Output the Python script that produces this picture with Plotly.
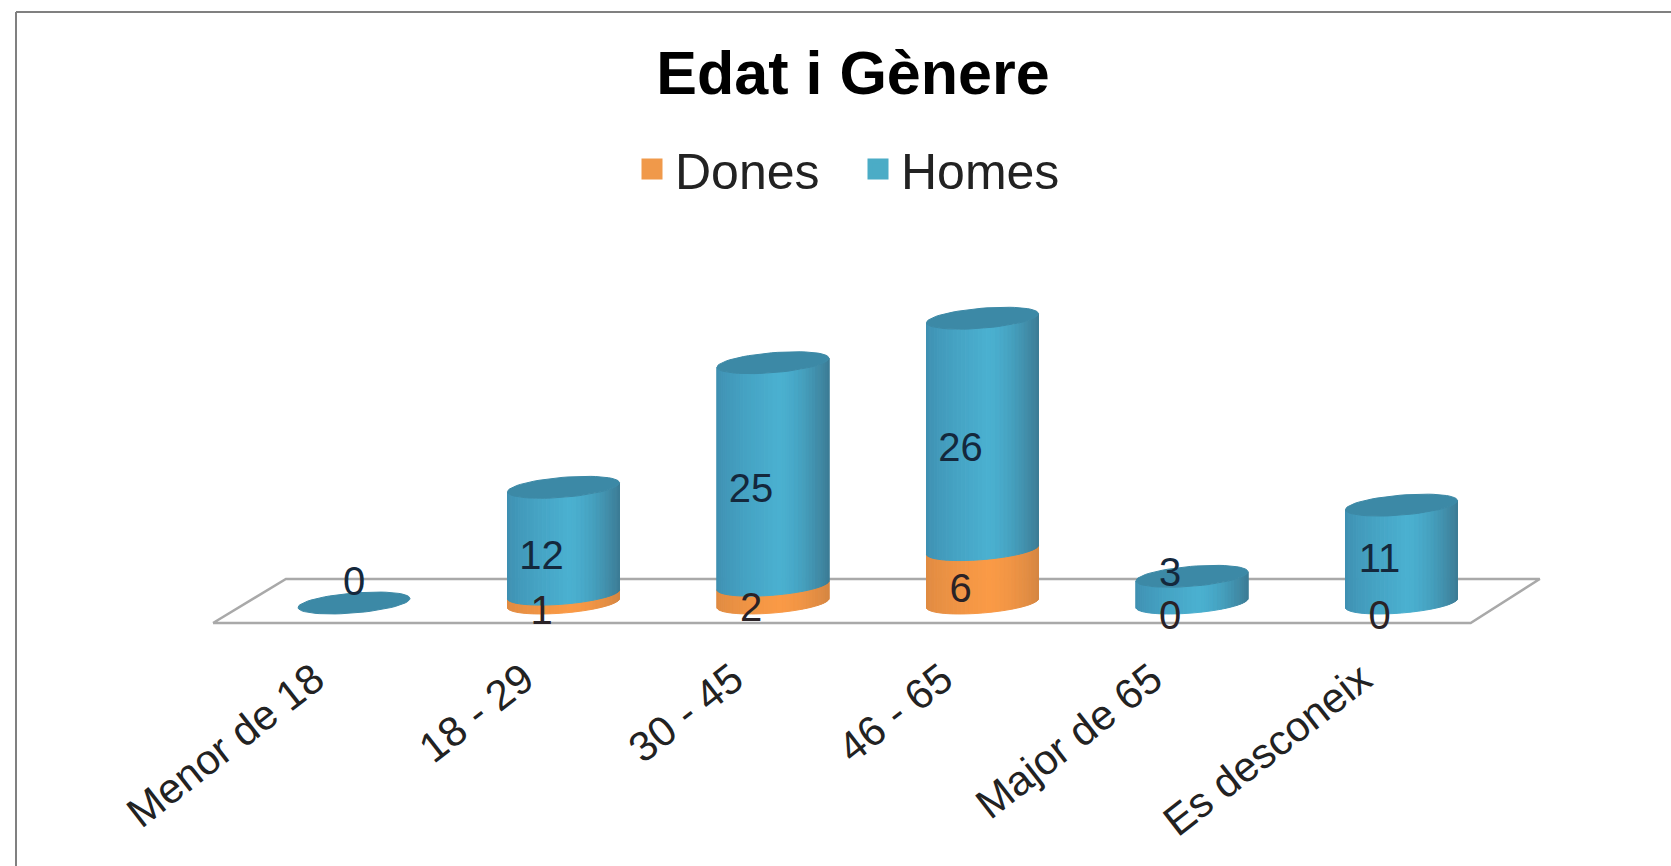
import numpy as np
import plotly.graph_objects as go

# Values
categories = ["Menor de 18", "18 - 29", "30 - 45", "46 - 65", "Major de 65", "Es desconeix"]
dones = [0, 1, 2, 6, 0, 0]
homes = [0, 12, 25, 26, 3, 11]
dones_labels = ["", "1", "2", "6", "0", "0"]
homes_labels = ["0", "12", "25", "26", "3", "11"]

W, H = 1671, 866
PLOT_BOTTOM = 630          # px, the tick labels live below this
BASE_PX = 603              # px of value 0
X0_PX, X_STEP = 354, 209.5 # px of first category, px per category
Y_STEP = 8.9               # px per person

# Cylinder geometry, in axis units
HALF_W = 56 / X_STEP
ELL_H = 10 / Y_STEP
ELL_TILT = 4.5 / Y_STEP
N_STRIPS = 40


def mix(c1, c2, t):
    return "rgb(%d,%d,%d)" % tuple(round(a + (b - a) * t) for a, b in zip(c1, c2))


def shade(edge_l, mid, edge_r, t):
    # t goes 0..1 from left to right, lightest a bit right of the middle
    if t < 0.55:
        return mix(edge_l, mid, (t / 0.55) ** 0.7)
    return mix(mid, edge_r, ((t - 0.55) / 0.45) ** 1.6)


def arc(u, level):
    return level + ELL_TILT * np.cos(u) + ELL_H * np.sin(u)


def strips(seg_list, edge_l, mid, edge_r):
    # one trace per shade, each holding that strip of every cylinder
    edges = np.linspace(np.pi, 2 * np.pi, N_STRIPS + 1)
    out = []
    for k in range(N_STRIPS):
        u1, u2 = edges[k], edges[k + 1]
        xs, ys = [], []
        for i, lo, hi in seg_list:
            x1 = i + HALF_W * np.cos(u1)
            x2 = i + HALF_W * np.cos(u2)
            xs += [x1, x2, x2, x1, x1, None]
            ys += [arc(u1, lo), arc(u2, lo), arc(u2, hi), arc(u1, hi), arc(u1, lo), None]
        t = (np.cos((u1 + u2) / 2) + 1) / 2
        col = shade(edge_l, mid, edge_r, t)
        out.append(go.Scatter(x=xs, y=ys, mode="lines", fill="toself", fillcolor=col,
                              line=dict(color=col, width=1), showlegend=False, hoverinfo="skip"))
    return out


fig = go.Figure()

# Floor of the 3D plot
fig.add_trace(go.Scatter(
    x=[-0.673, 5.33, 5.66, -0.325, -0.673],
    y=[-2.25, -2.25, 2.7, 2.7, -2.25],
    mode="lines", line=dict(color="#a9a9a9", width=2.5), showlegend=False, hoverinfo="skip"))

dones_segs = [(i, 0, d) for i, d in enumerate(dones) if d > 0]
homes_segs = [(i, d, d + h) for i, (d, h) in enumerate(zip(dones, homes)) if h > 0]
for tr in strips(dones_segs, (222, 138, 66), (250, 154, 70), (214, 134, 66)):
    fig.add_trace(tr)
for tr in strips(homes_segs, (62, 142, 176), (74, 176, 208), (60, 124, 150)):
    fig.add_trace(tr)

# Top caps
u = np.linspace(0, 2 * np.pi, 60)
cap_x, cap_y = [], []
for i, (d, h) in enumerate(zip(dones, homes)):
    cap_x += list(i + HALF_W * np.cos(u)) + [None]
    cap_y += list(arc(u, d + h)) + [None]
fig.add_trace(go.Scatter(x=cap_x, y=cap_y, mode="lines", fill="toself", fillcolor="#3c89a6",
                         line=dict(color="#3c89a6", width=1), showlegend=False, hoverinfo="skip"))

# Data labels
label_dx = [0 if i == 0 else -0.105 for i in range(len(categories))]
homes_shift = [2.05, -2.0, -2.0, -1.9, 1.5, -0.9]
dones_shift = [0, -1.75, -1.85, -1.75, -1.75, -1.75]
x_lab = [i + dx for i, dx in enumerate(label_dx)]
fig.add_trace(go.Scatter(
    x=x_lab, y=[d + h / 2 + s for d, h, s in zip(dones, homes, homes_shift)],
    mode="text", text=homes_labels, textposition="middle center", cliponaxis=False,
    textfont=dict(family="Liberation Sans", size=40, color="#14283c"),
    showlegend=False, hoverinfo="skip"))
fig.add_trace(go.Scatter(
    x=x_lab, y=[d / 2 + s for d, s in zip(dones, dones_shift)],
    mode="text", text=dones_labels, textposition="middle center", cliponaxis=False,
    textfont=dict(family="Liberation Sans", size=40, color="#2a2226"),
    showlegend=False, hoverinfo="skip"))

# Legend entries, legend caps the marker at 16 so the outline makes up the rest
fig.add_trace(go.Scatter(x=[None], y=[None], mode="markers", name="Dones",
                         marker=dict(symbol="square", size=16, color="#f0994a",
                                     line=dict(color="#f0994a", width=5))))
fig.add_trace(go.Scatter(x=[None], y=[None], mode="markers", name="Homes",
                         marker=dict(symbol="square", size=16, color="#4bacc6",
                                     line=dict(color="#4bacc6", width=5))))

plot_h = PLOT_BOTTOM
to_paper_y = lambda px: (plot_h - px) / plot_h

fig.update_layout(
    width=W, height=H,
    margin=dict(l=0, r=0, t=0, b=H - PLOT_BOTTOM),
    paper_bgcolor="white", plot_bgcolor="rgba(0,0,0,0)",
    title=dict(text="<b>Edat i Gènere</b>", x=853 / W, xanchor="center", xref="paper",
               y=1 - 73 / H, yanchor="middle", yref="container",
               font=dict(family="Liberation Sans", size=61, color="black")),
    legend=dict(orientation="h", x=629 / W, xanchor="left", y=to_paper_y(169), yanchor="middle",
                font=dict(family="Liberation Sans", size=50, color="#222222"),
                itemwidth=36, entrywidth=175, entrywidthmode="pixels",
                bgcolor="rgba(0,0,0,0)", itemclick=False, itemdoubleclick=False),
    xaxis=dict(range=[-X0_PX / X_STEP, (W - X0_PX) / X_STEP], showgrid=False, zeroline=False,
               showline=False, tickmode="array", tickvals=[i - 0.19 for i in range(len(categories))],
               ticktext=categories, tickangle=-38, ticks="outside", ticklen=7, tickcolor="rgba(0,0,0,0)",
               tickfont=dict(family="Liberation Sans", size=42, color="#222222")),
    yaxis=dict(range=[(BASE_PX - PLOT_BOTTOM) / Y_STEP, BASE_PX / Y_STEP], visible=False),
    shapes=[
        dict(type="line", xref="paper", yref="paper", x0=16 / W, x1=1, y0=to_paper_y(12), y1=to_paper_y(12),
             line=dict(color="#808080", width=2)),
        dict(type="line", xref="paper", yref="paper", x0=16 / W, x1=16 / W, y0=to_paper_y(12), y1=to_paper_y(H),
             line=dict(color="#808080", width=2)),
    ],
)

fig.write_html("out.html", config={"displayModeBar": False},
               post_script="document.body.style.margin='0';")
